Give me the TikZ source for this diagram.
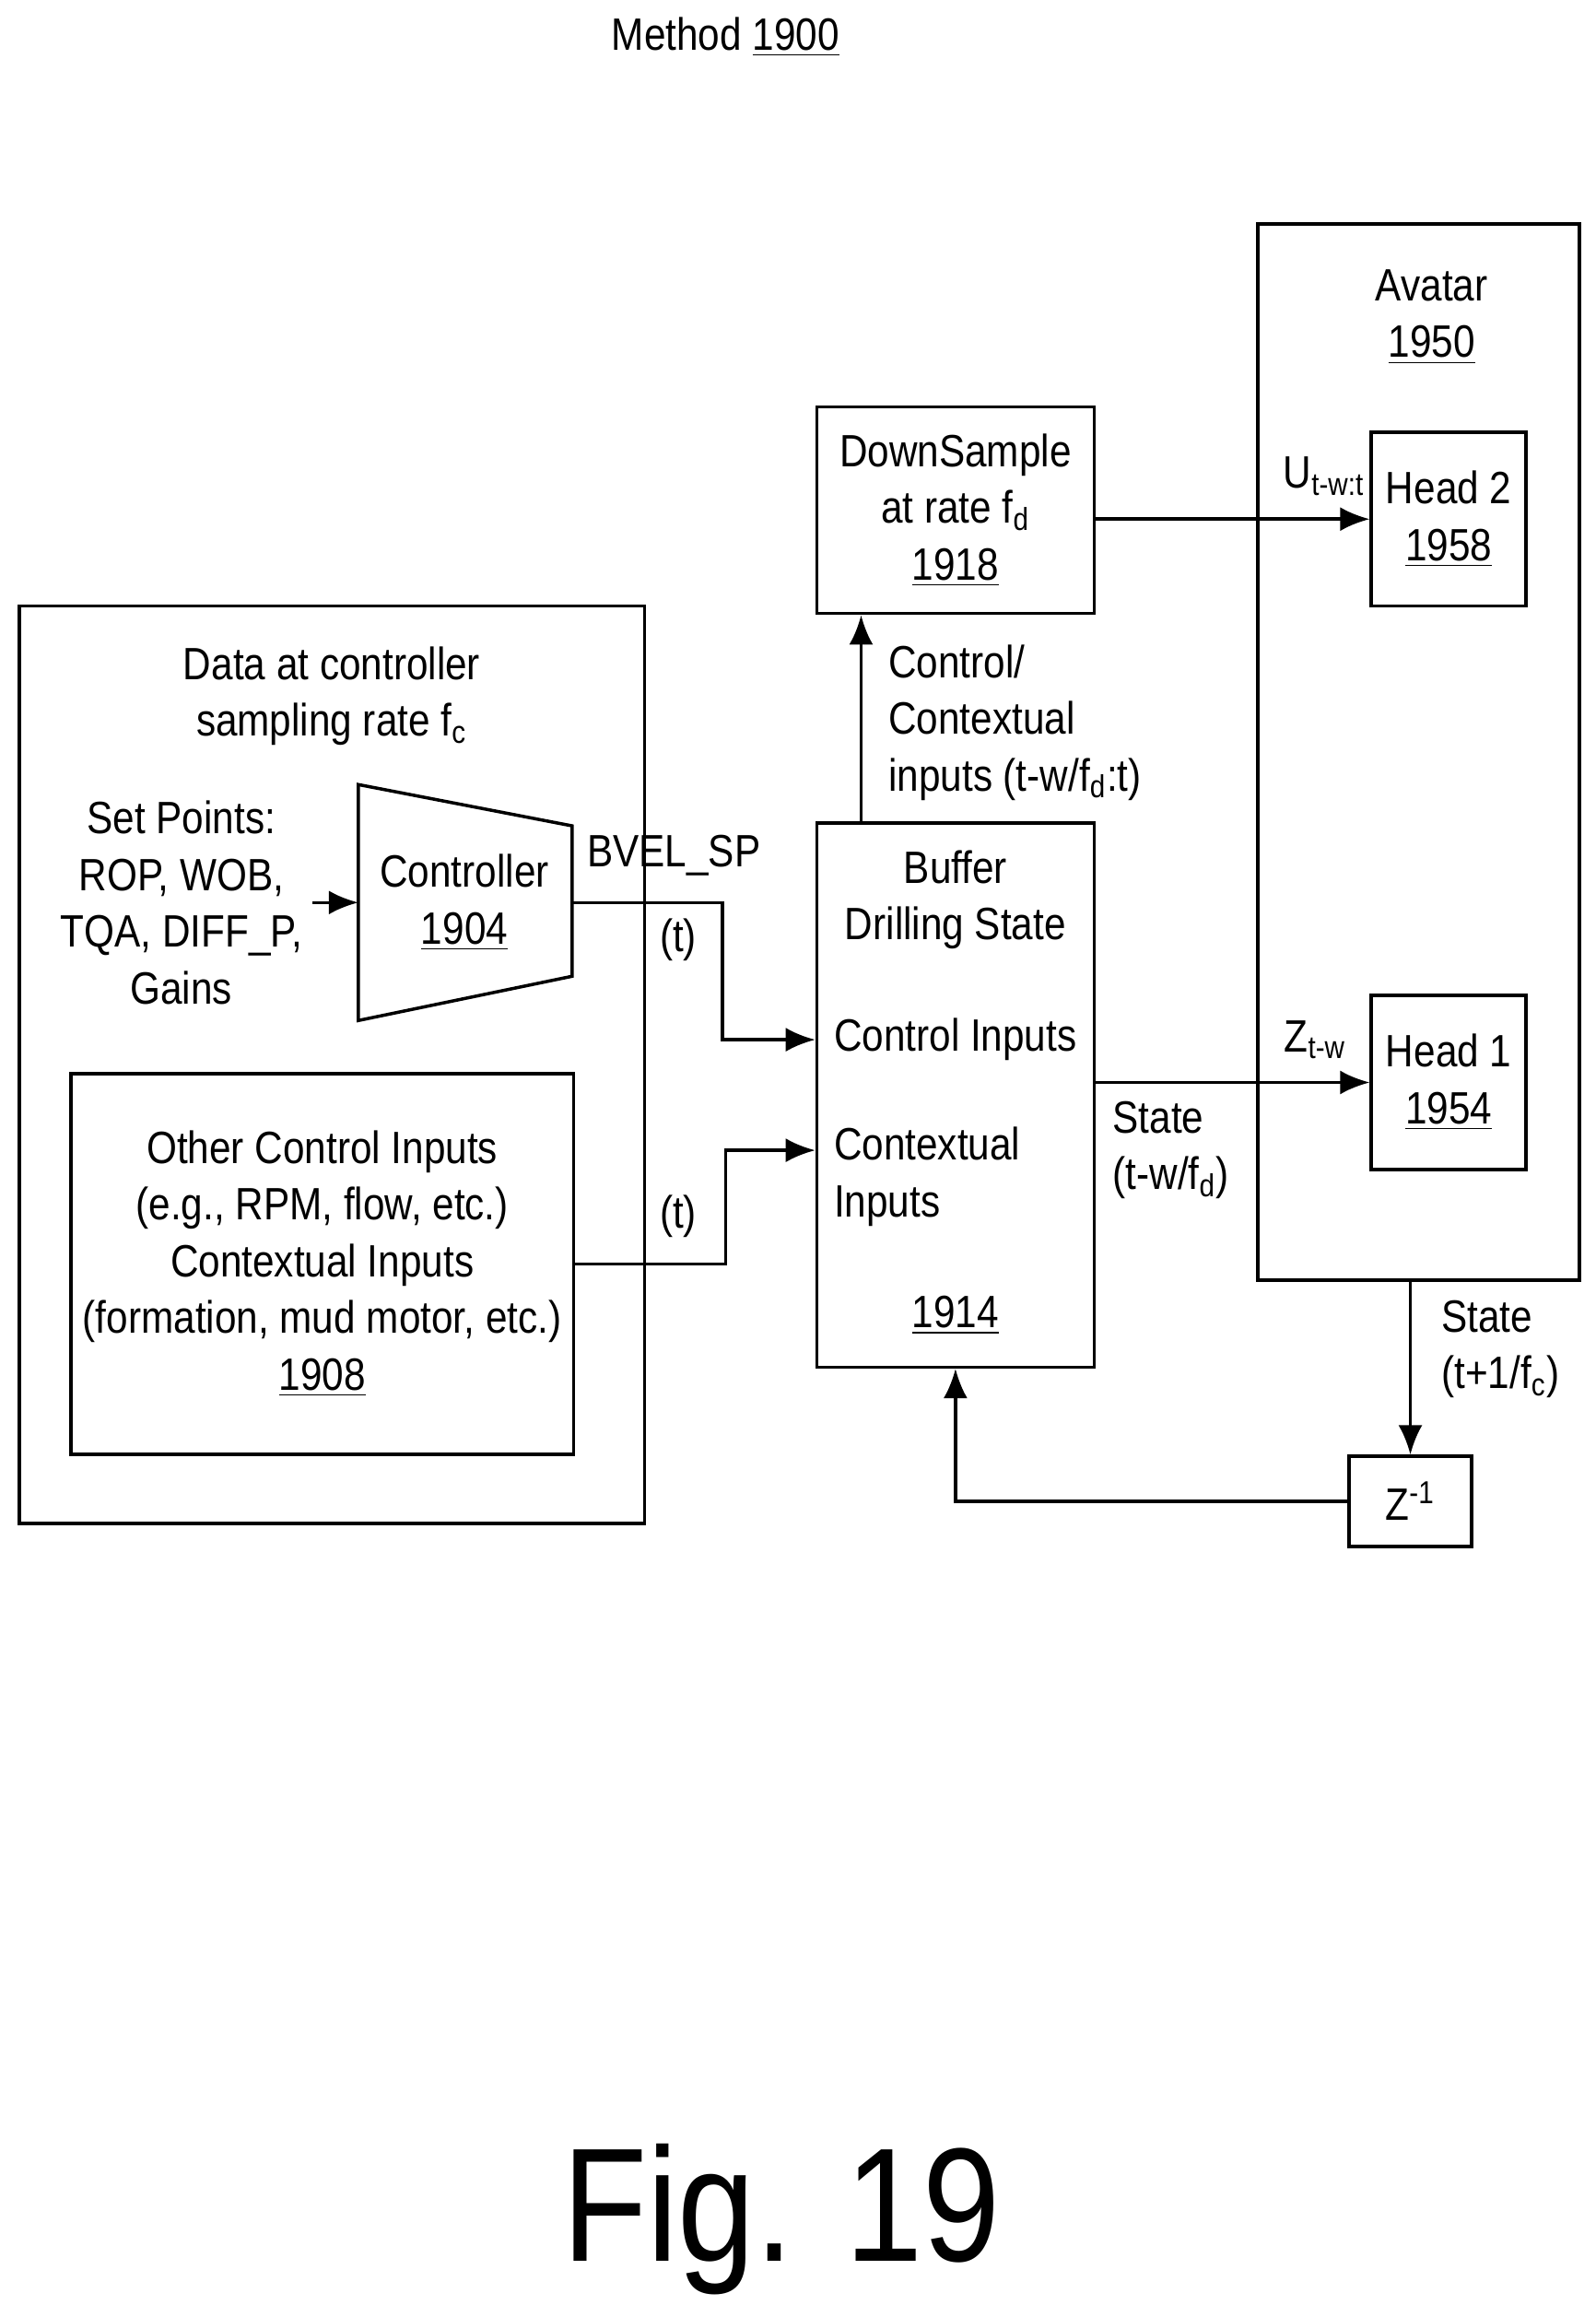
\documentclass[tikz,border=0pt]{standalone}
\usepackage{fontspec}
\setmainfont[FakeStretch=0.86]{Liberation Sans}
\usetikzlibrary{arrows.meta, calc}
\tikzset{
  blk/.style={draw, line width=1pt, inner sep=0pt},
  txt/.style={font=\fontsize{14}{17.5}\selectfont, align=center, inner sep=1pt},
  con/.style={line width=1pt, -{Latex[length=3.2mm, width=2.6mm]}},
  ln/.style={line width=1pt}
}
\begin{document}
\begin{tikzpicture}[x=0.016cm, y=-0.016cm]
    \useasboundingbox (0,0) rectangle (1082,1563);
    \node[txt] (title) at (492,25) {Method \underline{1900}};
    % left group
    \draw[blk] (13,411) rectangle (437,1033);
    \node[txt] (data) at (225,472) {Data at controller\\sampling rate f\textsubscript{c}};
    \node[txt] (sp) at (123,612) {Set Points:\\ROP, WOB,\\TQA, DIFF\_P,\\Gains};
    \draw[ln] (243,532) coordinate(c1) -- (388,560) coordinate(c2) -- (388,662)
      coordinate(c3) -- (243,692) coordinate(c4) -- cycle;
    \node[txt] (ctrl) at (315,612) {Controller\\\underline{1904}};
    \coordinate (ctrlout) at (388,612);
    \coordinate (ctrlin) at (243,612);
    \draw[con] (212,612) -- (ctrlin);
    \node[blk, txt, minimum width=341*0.016cm, minimum height=258*0.016cm] (other) at (218.5,857)
      {Other Control Inputs\\(e.g., RPM, flow, etc.)\\Contextual Inputs\\(formation, mud motor, etc.)\\\underline{1908}};
    % buffer and downsample
    \node[blk, minimum width=188*0.016cm, minimum height=369*0.016cm] (buf) at (648,742.5) {};
    \node[txt] (buft) at (648,610) {Buffer\\Drilling State};
    \node[txt, anchor=west] (bci) at (563,705) {Control Inputs};
    \node[txt, anchor=west, align=left] (bcx) at (563,798) {Contextual\\Inputs};
    \node[txt] (bnum) at (648,892) {\underline{1914}};
    \node[blk, txt, minimum width=188*0.016cm, minimum height=140*0.016cm] (down) at (648,346)
      {DownSample\\at rate f\textsubscript{d}\\\underline{1918}};
    % avatar
    \draw[blk] (853,152) coordinate(av1) rectangle (1071,868) coordinate(av2);
    \node[txt] (avt) at (971,215) {Avatar\\\underline{1950}};
    \node[blk, txt, minimum width=105*0.016cm, minimum height=118*0.016cm] (h2) at (982.5,352)
      {Head 2\\\underline{1958}};
    \node[blk, txt, minimum width=105*0.016cm, minimum height=118*0.016cm] (h1) at (982.5,734)
      {Head 1\\\underline{1954}};
    \node[blk, txt, minimum width=83*0.016cm, minimum height=61*0.016cm] (z) at (956.5,1018)
      {Z\textsuperscript{-1}};
    % connectors
    \draw[con] (ctrlout) -- (490,612) -- (490,705) -- (buf.west |- 490,705);
    \node[txt] (bvel) at (457,580) {BVEL\_SP};
    \node[txt] (t1) at (460,637) {(t)};
    \draw[con] (other.east |- 0,857) -- (492,857) -- (492,780) -- (buf.west |- 492,780);
    \node[txt] (t2) at (460,825) {(t)};
    \draw[con] (buf.north -| 584,0) -- (down.south -| 584,0);
    \node[txt, anchor=west, align=left] (cci) at (600,490) {Control/\\Contextual\\inputs (t-w/f\textsubscript{d}:t)};
    \draw[con] (down.east |- h2) -- (h2.west);
    \node[txt] (u) at (898,323) {U\textsubscript{t-w:t}};
    \draw[con] (buf.east |- h1) -- (h1.west);
    \node[txt] (zt) at (892,705) {Z\textsubscript{t-w}};
    \node[txt, anchor=west, align=left] (st1) at (752,780) {State\\(t-w/f\textsubscript{d})};
    \draw[con] (z.north |- av2) -- (z.north);
    \node[txt, anchor=west, align=left] (st2) at (975,915) {State\\(t+1/f\textsubscript{c})};
    \draw[con] (z.west) -- (648,1018) -- (buf.south);
    \node[font=\fontsize{50}{55}\selectfont, inner sep=0pt] (fig) at (530,1505) {Fig. 19};
\end{tikzpicture}
\end{document}
